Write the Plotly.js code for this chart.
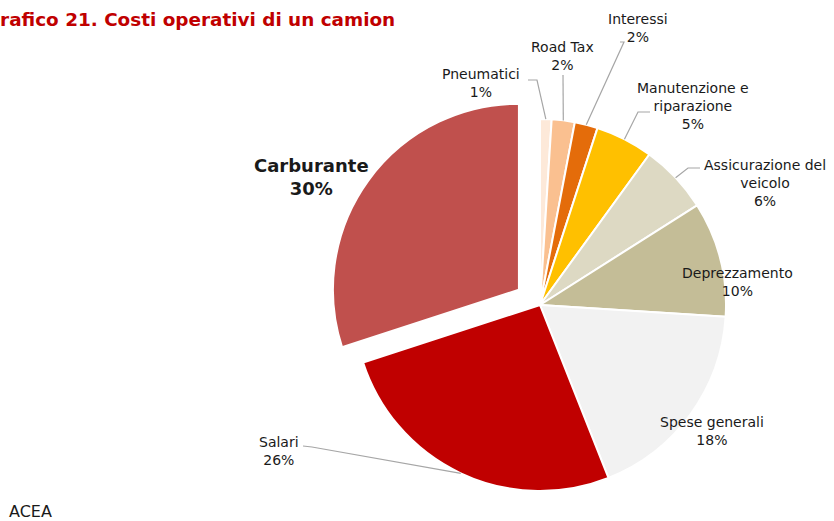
<!DOCTYPE html>
<html>
<head>
<meta charset="utf-8">
<script src="https://cdn.plot.ly/plotly-3.0.1.min.js"></script>
<style>html,body{margin:0;padding:0;background:#fff;overflow:hidden}</style>
</head>
<body>
<div id="chart" style="width:834px;height:521px"></div>
<script>
// ---- data ----
const categories = ['Pneumatici', 'Road Tax', 'Interessi', 'Manutenzione e<br>riparazione',
  'Assicurazione del<br>veicolo', 'Deprezzamento', 'Spese generali', 'Salari', 'Carburante'];
const shares = [1, 2, 2, 5, 6, 10, 18, 26, 30];
const sliceColors = ['#fde9d9', '#fac090', '#e46c0a', '#ffc000', '#ddd9c3', '#c4bd97', '#f2f2f2', '#c00000', '#c0504d'];
const pulls = [0, 0, 0, 0, 0, 0, 0, 0, 0.14];
const titleText = 'Grafico 21. Costi operativi di un camion';
const sourceText = 'ACEA';

// ---- geometry / style ----
const W = 834, H = 521;
const CX = 540, CY = 305, R = 186;
const maxPull = Math.max(...pulls);
const box = 2 * R * (1 + maxPull);
const px = x => x / W;
const py = y => 1 - y / H;

// label placement (pixels) and leader elbows
const labelStyle = [
  {x: 481, y: 83, elbow: [[528, 80], [537, 80]]},
  {x: 562, y: 56, elbow: [[563, 75]]},
  {x: 638, y: 28, elbow: [[620, 42], [624, 42]]},
  {x: 693, y: 106, elbow: [[650, 112], [638, 112]]},
  {x: 765, y: 183, elbow: [[700, 168], [688, 168]]},
  {x: 737, y: 282, elbow: null},
  {x: 712, y: 431, elbow: null},
  {x: 279, y: 451, elbow: [[303, 446], [312, 447]]},
  {x: 311, y: 177, elbow: null, bold: true, size: 18}
];

const total = shares.reduce((a, b) => a + b, 0);
const annotations = [];
const shapes = [];
let cum = 0;
shares.forEach((v, i) => {
  const mid = (cum + v / 2) / total;
  cum += v;
  const th = 2 * Math.PI * mid;
  const ex = CX + R * Math.sin(th), ey = CY - R * Math.cos(th);
  const st = labelStyle[i];
  const txt = categories[i] + '<br>' + v + '%';
  annotations.push({
    xref: 'paper', yref: 'paper', x: px(st.x), y: py(st.y),
    xanchor: 'center', yanchor: 'middle', showarrow: false, align: 'center',
    text: st.bold ? '<b>' + txt + '</b>' : txt,
    font: {family: 'DejaVu Sans, sans-serif', size: st.size || 14, color: '#1a1a1a'}
  });
  if (st.elbow) {
    const pts = st.elbow.concat([[ex, ey]]);
    const path = pts.map((p, k) => (k ? 'L' : 'M') + px(p[0]).toFixed(5) + ',' + py(p[1]).toFixed(5)).join(' ');
    shapes.push({type: 'path', xref: 'paper', yref: 'paper', path: path,
      line: {color: '#a6a6a6', width: 1.2}});
  }
});

annotations.push({
  xref: 'paper', yref: 'paper', x: px(-17), y: py(20), xanchor: 'left', yanchor: 'middle',
  showarrow: false, text: '<b>' + titleText + '</b>',
  font: {family: 'DejaVu Sans, sans-serif', size: 18.4, color: '#c00000'}
});
annotations.push({
  xref: 'paper', yref: 'paper', x: px(7), y: py(511), xanchor: 'left', yanchor: 'middle',
  showarrow: false, text: sourceText,
  font: {family: 'DejaVu Sans, sans-serif', size: 16, color: '#1a1a1a'}
});

const trace = {
  type: 'pie',
  labels: categories,
  values: shares,
  sort: false,
  direction: 'clockwise',
  rotation: 0,
  pull: pulls,
  textinfo: 'none',
  hoverinfo: 'label+percent',
  marker: {colors: sliceColors, line: {color: '#ffffff', width: 2}},
  domain: {x: [px(CX - box / 2), px(CX + box / 2)], y: [py(CY + box / 2), py(CY - box / 2)]},
  showlegend: false
};

Plotly.newPlot('chart', [trace], {
  width: W, height: H,
  margin: {l: 0, r: 0, t: 0, b: 0},
  paper_bgcolor: '#ffffff',
  showlegend: false,
  annotations: annotations,
  shapes: shapes
}, {displayModeBar: false, staticPlot: true});
</script>
</body>
</html>
